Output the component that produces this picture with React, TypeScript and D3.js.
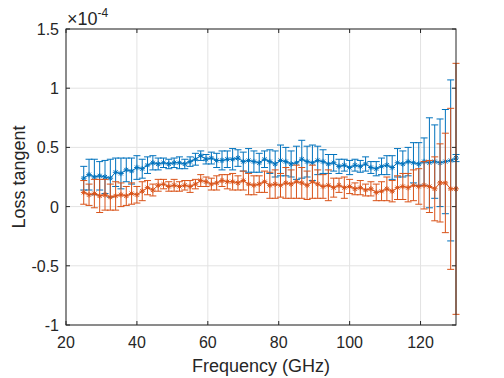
import React from "react";
import * as d3 from "d3";

const freqStart = 25;
const freqStep = 1.5;

const blueMean = [
  0.24,0.27,0.25,0.26,0.25,0.24,0.29,0.28,0.31,0.30,
  0.33,0.32,0.35,0.37,0.36,0.37,0.36,0.37,0.37,0.36,
  0.38,0.40,0.43,0.40,0.41,0.39,0.39,0.40,0.40,0.41,
  0.38,0.39,0.38,0.37,0.40,0.38,0.36,0.39,0.38,0.36,
  0.37,0.40,0.38,0.37,0.39,0.38,0.36,0.37,0.34,0.35,
  0.33,0.35,0.34,0.36,0.33,0.32,0.34,0.35,0.33,0.37,
  0.36,0.38,0.37,0.36,0.38,0.37,0.38,0.37,0.38,0.39,
  0.41,
];
const blueErr = [
  0.10,0.13,0.15,0.12,0.14,0.16,0.12,0.13,0.10,0.11,
  0.10,0.08,0.07,0.06,0.05,0.04,0.04,0.04,0.05,0.04,
  0.04,0.05,0.04,0.04,0.05,0.06,0.08,0.07,0.09,0.07,
  0.08,0.10,0.09,0.08,0.07,0.10,0.11,0.13,0.12,0.11,
  0.14,0.16,0.13,0.15,0.12,0.10,0.08,0.07,0.06,0.05,
  0.06,0.05,0.05,0.06,0.05,0.06,0.07,0.08,0.10,0.12,
  0.11,0.12,0.17,0.18,0.20,0.38,0.31,0.37,0.44,0.68,
  0.03,
];
const orangeMean = [
  0.12,0.10,0.11,0.09,0.10,0.08,0.09,0.10,0.09,0.11,
  0.10,0.13,0.16,0.14,0.18,0.19,0.17,0.18,0.17,0.18,
  0.17,0.19,0.22,0.21,0.19,0.20,0.22,0.21,0.21,0.20,
  0.22,0.19,0.18,0.19,0.21,0.18,0.19,0.18,0.20,0.19,
  0.21,0.20,0.18,0.21,0.19,0.17,0.18,0.16,0.18,0.16,
  0.17,0.15,0.16,0.14,0.15,0.12,0.13,0.15,0.13,0.16,
  0.17,0.16,0.18,0.17,0.18,0.17,0.15,0.20,0.20,0.15,
  0.15,
];
const orangeErr = [
  0.10,0.09,0.12,0.14,0.13,0.11,0.12,0.10,0.08,0.09,
  0.07,0.08,0.06,0.05,0.05,0.04,0.04,0.05,0.04,0.04,
  0.05,0.04,0.05,0.04,0.05,0.06,0.05,0.06,0.07,0.06,
  0.08,0.09,0.08,0.07,0.09,0.11,0.12,0.10,0.13,0.12,
  0.14,0.13,0.12,0.14,0.12,0.10,0.13,0.08,0.06,0.09,
  0.06,0.05,0.06,0.05,0.06,0.07,0.08,0.10,0.09,0.10,
  0.11,0.12,0.13,0.15,0.20,0.22,0.27,0.33,0.42,0.68,
  1.06,
];

const xTicks = [20, 40, 60, 80, 100, 120];
const yTicks = [-1, -0.5, 0, 0.5, 1, 1.5];
const yTickLabels = ["-1", "-0.5", "0", "0.5", "1", "1.5"];

const W = 504, H = 378;
const L = 66, R = 456, T = 29, B = 325;
const FONT = "'Liberation Sans', Arial, Helvetica, sans-serif";

export default function App() {
  const x = d3.scaleLinear().domain([20, 130]).range([L, R]);
  const y = d3.scaleLinear().domain([-1, 1.5]).range([B, T]);
  const freqs = blueMean.map((_, i) => freqStart + i * freqStep);

  const series = [
    { mean: blueMean, err: blueErr, color: "#0072BD" },
    { mean: orangeMean, err: orangeErr, color: "#D95319" },
  ];
  const line = d3.line<number>().x((_, i) => x(freqs[i])).y((d) => y(d));
  const cap = 3.5;
  const m = 2.8;

  return (
    <svg width={W} height={H} style={{ position: "absolute", left: 0, top: 0 }}>
      <rect x={0} y={0} width={W} height={H} fill="#fff" />
      {xTicks.map((t) => (
        <line key={"gx" + t} x1={x(t)} x2={x(t)} y1={T} y2={B} stroke="#e3e3e3" strokeWidth={1} />
      ))}
      {yTicks.map((t) => (
        <line key={"gy" + t} x1={L} x2={R} y1={y(t)} y2={y(t)} stroke="#e3e3e3" strokeWidth={1} />
      ))}
      {series.map((s, si) => (
        <g key={si} stroke={s.color} fill="none" strokeWidth={1}>
          {s.mean.map((v, i) => {
            const cx = x(freqs[i]);
            const top = y(v + s.err[i]);
            const bot = y(v - s.err[i]);
            return (
              <g key={i}>
                <line x1={cx} x2={cx} y1={top} y2={bot} />
                <line x1={cx - cap} x2={cx + cap} y1={top} y2={top} />
                <line x1={cx - cap} x2={cx + cap} y1={bot} y2={bot} />
              </g>
            );
          })}
          <path d={line(s.mean) || ""} />
          {s.mean.map((v, i) => {
            const cx = x(freqs[i]);
            const cy = y(v);
            const d = m * 0.72;
            return (
              <path
                key={"m" + i}
                d={`M${cx - m},${cy}L${cx + m},${cy}M${cx},${cy - m}L${cx},${cy + m}M${cx - d},${cy - d}L${cx + d},${cy + d}M${cx - d},${cy + d}L${cx + d},${cy - d}`}
              />
            );
          })}
        </g>
      ))}
      <rect x={L} y={T} width={R - L} height={B - T} fill="none" stroke="#262626" strokeWidth={1} />
      {xTicks.map((t) => (
        <g key={"tx" + t} stroke="#262626">
          <line x1={x(t)} x2={x(t)} y1={B} y2={B - 4} />
          <line x1={x(t)} x2={x(t)} y1={T} y2={T + 4} />
        </g>
      ))}
      {yTicks.map((t) => (
        <g key={"ty" + t} stroke="#262626">
          <line x1={L} x2={L + 4} y1={y(t)} y2={y(t)} />
          <line x1={R} x2={R - 4} y1={y(t)} y2={y(t)} />
        </g>
      ))}
      {xTicks.map((t) => (
        <text key={"lx" + t} x={x(t)} y={B + 23} fontSize={16} fontFamily={FONT} fill="#262626" textAnchor="middle">
          {t}
        </text>
      ))}
      {yTicks.map((t, i) => (
        <text key={"ly" + t} x={L - 7} y={y(t) + 6} fontSize={16} fontFamily={FONT} fill="#262626" textAnchor="end">
          {yTickLabels[i]}
        </text>
      ))}
      <text x={L + 1} y={T - 4} fontSize={18} fontFamily={FONT} fill="#262626">
        ×10
        <tspan dy={-8} fontSize={12}>-4</tspan>
      </text>
      <text x={(L + R) / 2} y={372} fontSize={18} fontFamily={FONT} fill="#262626" textAnchor="middle">
        Frequency (GHz)
      </text>
      <text
        transform={`translate(25,${(T + B) / 2}) rotate(-90)`}
        fontSize={18}
        fontFamily={FONT}
        fill="#262626"
        textAnchor="middle"
      >
        Loss tangent
      </text>
    </svg>
  );
}
